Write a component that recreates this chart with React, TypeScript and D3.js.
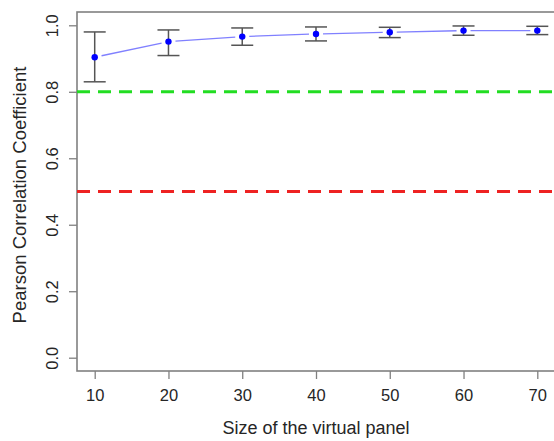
import React, { useEffect, useRef } from 'react';
import * as d3 from 'd3';

// panel sizes and mean Pearson r with its error range
const panelSizes = [10, 20, 30, 40, 50, 60, 70];
const meanR = [0.904, 0.951, 0.966, 0.974, 0.979, 0.984, 0.984];
const upperR = [0.980, 0.986, 0.992, 0.995, 0.994, 0.998, 0.997];
const lowerR = [0.830, 0.909, 0.940, 0.953, 0.963, 0.970, 0.972];
const yTicks = [0.0, 0.2, 0.4, 0.6, 0.8, 1.0];
const refLines = [
    { value: 0.8, color: '#22dd22' },
    { value: 0.5, color: '#ee2222' },
];

const width = 554;
const height = 441;
const margin = { top: 12, right: -1, bottom: 70, left: 77 };

const App = () => {
    const ref = useRef<SVGSVGElement>(null);

    useEffect(() => {
        const svg = d3.select(ref.current);
        svg.selectAll('*').remove();

        const x = d3.scaleLinear()
            .domain([7.6, 72.4])
            .range([margin.left, width - margin.right]);
        const y = d3.scaleLinear()
            .domain([-0.04, 1.04])
            .range([height - margin.bottom, margin.top]);

        const font = "'Liberation Sans', Arial, sans-serif";
        const axisColor = '#808080';
        const textColor = '#262626';

        // box
        svg.append('rect')
            .attr('x', margin.left)
            .attr('y', margin.top)
            .attr('width', width - margin.right - margin.left)
            .attr('height', height - margin.bottom - margin.top)
            .attr('fill', 'none')
            .attr('stroke', axisColor)
            .attr('stroke-width', 1.6);

        // x axis
        const xAxis = svg.append('g')
            .attr('transform', `translate(0,${height - margin.bottom})`)
            .call(d3.axisBottom(x).tickValues(panelSizes).tickSize(8).tickPadding(10).tickFormat(d3.format('d')));
        xAxis.select('.domain').remove();
        xAxis.selectAll('line').attr('stroke', axisColor).attr('stroke-width', 1.3);
        xAxis.selectAll('text').attr('font-family', font).attr('font-size', 16.5).attr('fill', textColor);

        // y axis, labels turned like base R
        const yAxis = svg.append('g')
            .attr('transform', `translate(${margin.left},0)`)
            .call(d3.axisLeft(y).tickValues(yTicks).tickSize(8).tickFormat(d3.format('.1f')));
        yAxis.select('.domain').remove();
        yAxis.selectAll('line').attr('stroke', axisColor).attr('stroke-width', 1.3);
        yAxis.selectAll('text')
            .attr('font-family', font)
            .attr('font-size', 16.5)
            .attr('fill', textColor)
            .attr('text-anchor', 'middle')
            .attr('dy', null)
            .attr('x', null)
            .attr('transform', `translate(-25.5,0) rotate(-90)`)
            .attr('dominant-baseline', 'central');

        // axis titles
        svg.append('text')
            .attr('x', 316)
            .attr('y', 434)
            .attr('text-anchor', 'middle')
            .attr('font-family', font)
            .attr('font-size', 18)
            .attr('fill', textColor)
            .text('Size of the virtual panel');
        svg.append('text')
            .attr('transform', `translate(26,195) rotate(-90)`)
            .attr('text-anchor', 'middle')
            .attr('font-family', font)
            .attr('font-size', 18.5)
            .attr('fill', textColor)
            .text('Pearson Correlation Coefficient');

        // reference lines
        svg.selectAll('.ref')
            .data(refLines)
            .enter()
            .append('line')
            .attr('x1', margin.left)
            .attr('x2', width)
            .attr('y1', d => y(d.value))
            .attr('y2', d => y(d.value))
            .attr('stroke', d => d.color)
            .attr('stroke-width', 3)
            .attr('stroke-dasharray', '13,8');

        // connecting line with gaps round the points
        const gap = 7;
        for (let i = 0; i < panelSizes.length - 1; i++) {
            const x1 = x(panelSizes[i]), y1 = y(meanR[i]);
            const x2 = x(panelSizes[i + 1]), y2 = y(meanR[i + 1]);
            const len = Math.hypot(x2 - x1, y2 - y1);
            const ux = (x2 - x1) / len, uy = (y2 - y1) / len;
            svg.append('line')
                .attr('x1', x1 + ux * gap)
                .attr('y1', y1 + uy * gap)
                .attr('x2', x2 - ux * gap)
                .attr('y2', y2 - uy * gap)
                .attr('stroke', '#8080ff')
                .attr('stroke-width', 1.3);
        }

        // error bars
        const capHalf = 11;
        const bars = svg.selectAll('.err')
            .data(panelSizes.map((s, i) => ({ s, lo: lowerR[i], hi: upperR[i] })))
            .enter()
            .append('g');
        bars.append('line')
            .attr('x1', d => x(d.s)).attr('x2', d => x(d.s))
            .attr('y1', d => y(d.lo)).attr('y2', d => y(d.hi));
        bars.append('line')
            .attr('x1', d => x(d.s) - capHalf).attr('x2', d => x(d.s) + capHalf)
            .attr('y1', d => y(d.hi)).attr('y2', d => y(d.hi));
        bars.append('line')
            .attr('x1', d => x(d.s) - capHalf).attr('x2', d => x(d.s) + capHalf)
            .attr('y1', d => y(d.lo)).attr('y2', d => y(d.lo));
        bars.selectAll('line').attr('stroke', '#555').attr('stroke-width', 1.5);

        // points
        svg.selectAll('.pt')
            .data(panelSizes)
            .enter()
            .append('circle')
            .attr('cx', d => x(d))
            .attr('cy', (_, i) => y(meanR[i]))
            .attr('r', 3.2)
            .attr('fill', '#0000ff');
    }, []);

    return (
        <svg ref={ref} width={width} height={height}
            style={{ position: 'absolute', left: 0, top: 0, background: '#fff' }} />
    );
};

export default App;
